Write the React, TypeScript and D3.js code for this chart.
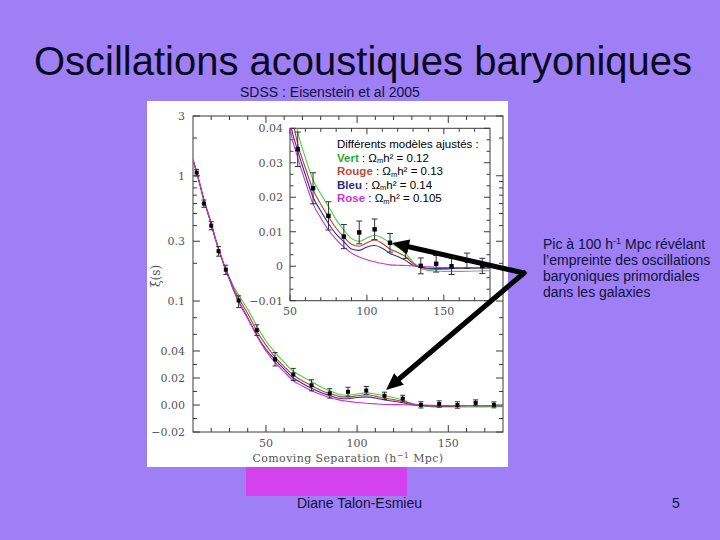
import React from 'react';
import * as d3 from 'd3';

// ---- Data ----
const dataS = [12, 16, 20, 24, 28, 35, 45, 55, 65, 75, 85, 95, 105, 115, 125, 135, 145, 155, 165, 175];
const dataXi = [1.06, 0.6, 0.4, 0.25, 0.178, 0.101, 0.065, 0.0339, 0.0226, 0.0146, 0.0086, 0.0098, 0.0107, 0.0068, 0.0047, 0.0001, 0.0007, 0.0, 0.0016, 0.0001];
const dataErr = [0.065, 0.04, 0.03, 0.022, 0.015, 0.009, 0.0065, 0.005, 0.0045, 0.0041, 0.0035, 0.0033, 0.003, 0.0027, 0.0025, 0.0023, 0.0024, 0.0024, 0.0022, 0.0022];

const modelS = [10, 12, 14, 16, 18, 20, 22, 25, 28, 30, 32, 35, 40, 45, 50, 55, 60, 65, 70, 75, 80, 85, 90, 95, 100, 105, 110, 115, 120, 125, 130, 135, 140, 145, 150, 160, 170, 180];
const greenXi = [1.34, 1.07, 0.83, 0.64, 0.514, 0.412, 0.324, 0.237, 0.18, 0.155, 0.133, 0.112, 0.09, 0.07, 0.052, 0.039, 0.0315, 0.025, 0.021, 0.0173, 0.0135, 0.0105, 0.008, 0.0072, 0.0082, 0.009, 0.0082, 0.0068, 0.0055, 0.0038, 0.0012, -0.0006, -0.0012, -0.0014, -0.0015, -0.0015, -0.0014, -0.0013];
const redXi = [1.34, 1.07, 0.83, 0.64, 0.514, 0.412, 0.324, 0.237, 0.178, 0.152, 0.129, 0.106, 0.085, 0.064, 0.047, 0.0355, 0.0285, 0.0222, 0.018, 0.0144, 0.011, 0.0085, 0.0064, 0.0058, 0.0068, 0.0076, 0.0066, 0.005, 0.004, 0.0028, 0.0008, -0.0004, -0.0008, -0.0009, -0.0008, -0.0006, -0.0005, -0.0005];
const blueXi = [1.34, 1.07, 0.83, 0.64, 0.514, 0.412, 0.324, 0.237, 0.176, 0.149, 0.125, 0.1, 0.08, 0.059, 0.042, 0.0335, 0.0265, 0.02, 0.016, 0.0124, 0.0093, 0.0071, 0.005, 0.0046, 0.0056, 0.006, 0.0052, 0.0037, 0.0028, 0.0017, 0.0003, -0.0003, -0.0006, -0.0007, -0.0007, -0.0006, -0.0005, -0.0005];
const roseXi = [1.34, 1.07, 0.83, 0.64, 0.514, 0.412, 0.324, 0.237, 0.176, 0.148, 0.124, 0.099, 0.079, 0.058, 0.04, 0.0315, 0.0245, 0.018, 0.014, 0.0105, 0.0078, 0.0056, 0.0038, 0.0027, 0.0019, 0.0013, 0.0008, 0.0004, 0.0003, 0.0002, 0.0001, 0.0, -0.0002, -0.0003, -0.0004, -0.0004, -0.0004, -0.0004];

const mainYTicks = [3, 1, 0.3, 0.1, 0.04, 0.02, 0, -0.02];
const mainYTickLabels = ['3', '1', '0.3', '0.1', '0.04', '0.02', '0.00', '\u22120.02'];
const mainYMinor = [2, 0.9, 0.8, 0.7, 0.6, 0.5, 0.4, 0.2, 0.08, 0.06, 0.03, 0.01, -0.01];
const xMajor = [50, 100, 150];
const xMinor = [20, 30, 40, 60, 70, 80, 90, 110, 120, 130, 140, 160, 170];
const insetYTicks = [0.04, 0.03, 0.02, 0.01, 0, -0.01];
const insetYTickLabels = ['0.04', '0.03', '0.02', '0.01', '0', '\u22120.01'];

const legendRows = [
  { name: 'Vert', color: '#2aa82a', value: '0.12' },
  { name: 'Rouge', color: '#c24a32', value: '0.13' },
  { name: 'Bleu', color: '#2b2b7e', value: '0.14' },
  { name: 'Rose', color: '#cc33cc', value: '0.105' },
];
const curveColors = ['#44d044', '#cc3a2a', '#3030a0', '#d030d0'];
const annotationLines = ['l\u2019empreinte des oscillations', 'baryoniques primordiales', 'dans les galaxies'];

export default function App() {
  // main plot scales
  const x = d3.scaleLinear().domain([10, 180]).range([193, 503]);
  const yLog = d3.scaleLog().domain([0.1, 3]).range([301, 116]);
  const yLin = d3.scaleLinear().domain([-0.02, 0, 0.02, 0.04, 0.1]).range([432, 405, 378, 351, 301]);
  const y = (v: number) => (v >= 0.1 ? yLog(v) : yLin(v));
  // inset scales
  const xi = d3.scaleLinear().domain([50, 180]).range([290, 490]);
  const yi = d3.scaleLinear().domain([-0.01, 0.04]).range([300.7, 128.3]);

  const curves = [greenXi, redXi, blueXi, roseXi];
  const mainLine = (vals: number[]) =>
    d3.line<number>().x((_, i) => x(modelS[i])).y((d) => y(d)).curve(d3.curveMonotoneX)(vals) || '';
  const insetIdx = modelS.map((s, i) => i).filter((i) => modelS[i] >= 40);
  const insetLine = (vals: number[]) =>
    d3.line<number>().x((i) => xi(modelS[i])).y((i) => yi(vals[i])).curve(d3.curveMonotoneX)(insetIdx) || '';

  const mX0 = 193, mX1 = 503, mY0 = 116, mY1 = 432;
  const iX0 = 290, iX1 = 490, iY0 = 128.3, iY1 = 300.7;
  const frameColor = '#3a3a3a';
  const tickFont = 'DejaVu Serif, serif';

  const arrow = (x1: number, y1: number, x2: number, y2: number, key: string) => {
    const ang = Math.atan2(y2 - y1, x2 - x1);
    const L = 17, W = 7.5;
    const bx = x2 - L * Math.cos(ang), by = y2 - L * Math.sin(ang);
    const p1 = [bx + W * Math.sin(ang), by - W * Math.cos(ang)];
    const p2 = [bx - W * Math.sin(ang), by + W * Math.cos(ang)];
    return (
      <g key={key}>
        <line x1={x1} y1={y1} x2={bx} y2={by} stroke="#000" strokeWidth={5} strokeLinecap="round" />
        <polygon points={`${x2},${y2} ${p1[0]},${p1[1]} ${p2[0]},${p2[1]}`} fill="#000" />
      </g>
    );
  };

  const insetData = dataS.map((s, i) => i).filter((i) => dataS[i] >= 55);

  return (
    <svg width={720} height={540} style={{ position: 'absolute', left: 0, top: 0 }}>
      <defs>
        <clipPath id="mainClip">
          <rect x={mX0} y={mY0} width={mX1 - mX0} height={mY1 - mY0} />
        </clipPath>
        <clipPath id="insetClip">
          <rect x={iX0} y={iY0} width={iX1 - iX0} height={iY1 - iY0} />
        </clipPath>
      </defs>
      <rect x={0} y={0} width={720} height={540} fill="#9e7ff6" />

      {/* title */}
      <text x={363} y={75} textAnchor="middle" fontFamily="Liberation Sans, Arial, sans-serif" fontSize={40} fill="#0a0a1e">
        Oscillations acoustiques baryoniques
      </text>
      <text x={240} y={97} fontFamily="Liberation Sans, Arial, sans-serif" fontSize={14} fill="#10103a">
        SDSS : Eisenstein et al 2005
      </text>

      {/* figure panel */}
      <rect x={147} y={101} width={361} height={366} fill="#ffffff" />

      {/* main plot frame */}
      <rect x={mX0} y={mY0} width={mX1 - mX0} height={mY1 - mY0} fill="none" stroke={frameColor} strokeWidth={1} />
      {mainYTicks.map((t) => (
        <g key={'my' + t}>
          <line x1={mX0} x2={mX0 + 7} y1={y(t)} y2={y(t)} stroke={frameColor} />
          <line x1={mX1} x2={mX1 - 7} y1={y(t)} y2={y(t)} stroke={frameColor} />
        </g>
      ))}
      {mainYMinor.map((t) => (
        <g key={'mym' + t}>
          <line x1={mX0} x2={mX0 + 4} y1={y(t)} y2={y(t)} stroke={frameColor} />
          <line x1={mX1} x2={mX1 - 4} y1={y(t)} y2={y(t)} stroke={frameColor} />
        </g>
      ))}
      {xMajor.map((t) => (
        <g key={'mx' + t}>
          <line x1={x(t)} x2={x(t)} y1={mY1} y2={mY1 - 7} stroke={frameColor} />
          <line x1={x(t)} x2={x(t)} y1={mY0} y2={mY0 + 7} stroke={frameColor} />
          <text x={x(t)} y={447} textAnchor="middle" fontFamily={tickFont} fontSize={11} fill="#555">{t}</text>
        </g>
      ))}
      {xMinor.map((t) => (
        <g key={'mxm' + t}>
          <line x1={x(t)} x2={x(t)} y1={mY1} y2={mY1 - 4} stroke={frameColor} />
          <line x1={x(t)} x2={x(t)} y1={mY0} y2={mY0 + 4} stroke={frameColor} />
        </g>
      ))}
      {mainYTicks.map((t, i) => (
        <text key={'myl' + t} x={185} y={y(t) + 4} textAnchor="end" fontFamily={tickFont} fontSize={11} fill="#555">
          {mainYTickLabels[i]}
        </text>
      ))}
      <text transform="translate(160,276) rotate(-90)" textAnchor="middle" fontFamily={tickFont} fontSize={12} fill="#555">
        ξ(s)
      </text>
      <text x={348} y={462} textAnchor="middle" fontFamily={tickFont} fontSize={11} fill="#555" letterSpacing={0.4}>
        Comoving Separation (h<tspan dy={-4} fontSize={8}>−1</tspan><tspan dy={4}> Mpc)</tspan>
      </text>

      {/* main curves */}
      <g clipPath="url(#mainClip)">
        {curves.map((c, k) => (
          <path key={'mc' + k} d={mainLine(c)} fill="none" stroke={curveColors[k]} strokeWidth={1.1} />
        ))}
      </g>
      {/* main data */}
      {dataS.map((s, i) => {
        const cx = x(s);
        const yt = y(dataXi[i] + dataErr[i]);
        const yb = y(dataXi[i] - dataErr[i]);
        return (
          <g key={'md' + i}>
            <line x1={cx} x2={cx} y1={yt} y2={yb} stroke="#333" strokeWidth={1} />
            <line x1={cx - 2.5} x2={cx + 2.5} y1={yt} y2={yt} stroke="#333" />
            <line x1={cx - 2.5} x2={cx + 2.5} y1={yb} y2={yb} stroke="#333" />
            <rect x={cx - 2} y={y(dataXi[i]) - 2} width={4} height={4} fill="#000" />
          </g>
        );
      })}

      {/* inset */}
      <rect x={iX0} y={iY0} width={iX1 - iX0} height={iY1 - iY0} fill="#fff" stroke={frameColor} strokeWidth={1} />
      {insetYTicks.map((t, i) => (
        <g key={'iy' + t}>
          <line x1={iX0} x2={iX0 + 6} y1={yi(t)} y2={yi(t)} stroke={frameColor} />
          <line x1={iX1} x2={iX1 - 6} y1={yi(t)} y2={yi(t)} stroke={frameColor} />
          <text x={283} y={yi(t) + 4} textAnchor="end" fontFamily={tickFont} fontSize={11} fill="#555">
            {insetYTickLabels[i]}
          </text>
        </g>
      ))}
      {d3.range(-3, 12).filter((k) => k % 3 !== 0).map((k) => (
        <g key={'iym' + k}>
          <line x1={iX0} x2={iX0 + 3.5} y1={yi(k / 300)} y2={yi(k / 300)} stroke={frameColor} />
          <line x1={iX1} x2={iX1 - 3.5} y1={yi(k / 300)} y2={yi(k / 300)} stroke={frameColor} />
        </g>
      ))}
      {xMajor.map((t) => (
        <g key={'ix' + t}>
          <line x1={xi(t)} x2={xi(t)} y1={iY1} y2={iY1 - 6} stroke={frameColor} />
          <line x1={xi(t)} x2={xi(t)} y1={iY0} y2={iY0 + 6} stroke={frameColor} />
          <text x={xi(t)} y={315} textAnchor="middle" fontFamily={tickFont} fontSize={11} fill="#555">{t}</text>
        </g>
      ))}
      {xMinor.filter((t) => t > 50).map((t) => (
        <g key={'ixm' + t}>
          <line x1={xi(t)} x2={xi(t)} y1={iY1} y2={iY1 - 3.5} stroke={frameColor} />
          <line x1={xi(t)} x2={xi(t)} y1={iY0} y2={iY0 + 3.5} stroke={frameColor} />
        </g>
      ))}
      <g clipPath="url(#insetClip)">
        {curves.map((c, k) => (
          <path key={'ic' + k} d={insetLine(c)} fill="none" stroke={curveColors[k]} strokeWidth={1.1} />
        ))}
        {insetData.map((i) => {
          const cx = xi(dataS[i]);
          const yt = yi(dataXi[i] + dataErr[i]);
          const yb = yi(dataXi[i] - dataErr[i]);
          return (
            <g key={'id' + i}>
              <line x1={cx} x2={cx} y1={yt} y2={yb} stroke="#333" />
              <line x1={cx - 3} x2={cx + 3} y1={yt} y2={yt} stroke="#333" />
              <line x1={cx - 3} x2={cx + 3} y1={yb} y2={yb} stroke="#333" />
              <rect x={cx - 2.2} y={yi(dataXi[i]) - 2.2} width={4.4} height={4.4} fill="#000" />
            </g>
          );
        })}
      </g>

      {/* inset legend */}
      <g fontFamily="Liberation Sans, Arial, sans-serif" fontSize={11.5} fill="#000">
        <text x={337} y={148}>Différents modèles ajustés :</text>
        {legendRows.map((r, k) => (
          <text key={r.name} x={337} y={161.5 + k * 13.5}>
            <tspan fill={r.color} fontWeight="bold">{r.name}</tspan>
            <tspan> : Ω</tspan>
            <tspan dy={1.5} fontSize={7.5}>m</tspan>
            <tspan dy={-1.5}>h² = {r.value}</tspan>
          </text>
        ))}
      </g>

      {/* arrows */}
      {arrow(524, 273, 392, 243, 'a1')}
      {arrow(524, 273, 386, 390, 'a2')}

      {/* annotation */}
      <g fontFamily="Liberation Sans, Arial, sans-serif" fontSize={14} fill="#10103a">
        <text x={543} y={249}>
          Pic à 100 h<tspan dy={-5} fontSize={9}>-1</tspan><tspan dy={5}> Mpc révélant</tspan>
        </text>
        {annotationLines.map((l, k) => (
          <text key={l} x={543} y={265 + k * 16}>{l}</text>
        ))}
      </g>

      {/* footer */}
      <rect x={246} y={467} width={161} height={29} fill="#d442f0" />
      <text x={297} y={508} fontFamily="Liberation Sans, Arial, sans-serif" fontSize={14} fill="#10103a">
        Diane Talon-Esmieu
      </text>
      <text x={672} y={508} fontFamily="Liberation Sans, Arial, sans-serif" fontSize={14} fill="#10103a">
        5
      </text>
    </svg>
  );
}
